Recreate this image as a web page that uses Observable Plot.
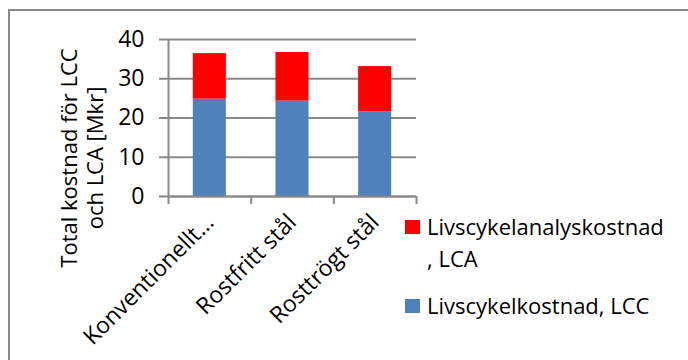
<!DOCTYPE html>
<html>
<head>
<meta charset="utf-8">
<script src="https://cdn.jsdelivr.net/npm/d3@7"></script>
<script src="https://cdn.jsdelivr.net/npm/@observablehq/plot@0.6"></script>
<style>
  html, body { margin: 0; padding: 0; background: #fff; }
  #chart { position: relative; width: 688px; height: 360px; overflow: hidden; font-family: "Open Sans", sans-serif; }
  #border { position: absolute; left: 8px; top: 9px; width: 800px; height: 500px; border: 2px solid #898989; box-sizing: border-box; }
  #chart svg { position: absolute; left: 0; top: 0; }
  #ytitle { position: absolute; left: -69px; top: 132px; width: 300px; height: 52px; font-size: 22px; line-height: 26px;
            text-align: center; white-space: nowrap; color: #000; transform: rotate(-90deg); }
  .legend { position: absolute; left: 405px; top: 0; font-size: 22px; line-height: 32px; color: #000; }
  .legend .sw { position: absolute; left: 0; width: 15px; height: 14px; }
  .legend .lbl { position: absolute; left: 22px; white-space: nowrap; }
</style>
</head>
<body>
<div id="chart"><div id="border"></div></div>
<script>
// Total cost per pipe material, split into life-cycle cost (LCC) and LCA cost, in Mkr
const categories = ["Konventionellt…", "Rostfritt stål", "Rosttrögt stål"];
const lcc = [24.8, 24.3, 21.6];
const lca = [11.6, 12.4, 11.5];
const yTicks = [0, 10, 20, 30, 40];
const seriesNames = ["Livscykelanalyskostnad, LCA", "Livscykelkostnad, LCC"];
const seriesColors = ["#ff0000", "#4f81bd"];
const yTitleLines = ["Total kostnad för LCC", "och LCA [Mkr]"];

// One segment per category and series; LCC sits at the bottom, LCA on top of it
const segments = categories.flatMap((c, i) => [
  {category: c, i, series: seriesNames[1], y1: 0, y2: lcc[i]},
  {category: c, i, series: seriesNames[0], y1: lcc[i], y2: lcc[i] + lca[i]}
]);

const gray = "#898989";

const plot = Plot.plot({
  width: 688,
  height: 360,
  marginLeft: 168,
  marginRight: 272,
  marginTop: 39,
  marginBottom: 164,
  style: {fontFamily: "Open Sans", fontSize: "23px", background: "transparent", color: "#000"},
  x: {domain: [0, categories.length]},
  y: {domain: [0, 40]},
  color: {domain: seriesNames, range: seriesColors},
  marks: [
    Plot.gridY(yTicks, {stroke: gray, strokeOpacity: 1, strokeWidth: 2}),
    Plot.axisY({ticks: yTicks, tickSize: 9, tickPadding: 15, stroke: gray, strokeWidth: 2, label: null, fontSize: 23}),
    Plot.rect(segments, {
      x1: d => d.i + 0.3,
      x2: d => d.i + 0.7,
      y1: "y1",
      y2: "y2",
      fill: "series"
    }),
    Plot.ruleY([0], {stroke: gray, strokeWidth: 2}),
    Plot.ruleX([0], {stroke: gray, strokeWidth: 2}),
    // category boundary ticks below the baseline
    Plot.axisX({ticks: d3.range(categories.length + 1), tickSize: 8, tickFormat: () => "", stroke: gray, strokeWidth: 2, label: null}),
    // rotated category names
    Plot.axisX({
      ticks: categories.map((c, i) => i + 0.5),
      tickFormat: v => categories[Math.floor(v)],
      tickSize: 0,
      tickPadding: 22,
      tickRotate: -45,
      dx: 0,
      label: null,
      fontSize: 23
    })
  ]
});

const chart = document.getElementById("chart");
chart.appendChild(plot);

// Two-line y-axis title, rotated to read upwards
const ytitle = document.createElement("div");
ytitle.id = "ytitle";
ytitle.innerHTML = yTitleLines.join("<br>");
chart.appendChild(ytitle);

// Legend to the right of the bars, LCA first as in the stacking order
const legend = document.createElement("div");
legend.className = "legend";
const entries = [
  {color: seriesColors[0], top: 210, swatchTop: 220, lines: ["Livscykelanalyskostnad", ", LCA"]},
  {color: seriesColors[1], top: 289, swatchTop: 299, lines: ["Livscykelkostnad, LCC"]}
];
for (const e of entries) {
  const sw = document.createElement("div");
  sw.className = "sw";
  sw.style.top = e.swatchTop + "px";
  sw.style.background = e.color;
  legend.appendChild(sw);
  const lbl = document.createElement("div");
  lbl.className = "lbl";
  lbl.style.top = e.top + "px";
  lbl.innerHTML = e.lines.join("<br>");
  legend.appendChild(lbl);
}
chart.appendChild(legend);
</script>
</body>
</html>
